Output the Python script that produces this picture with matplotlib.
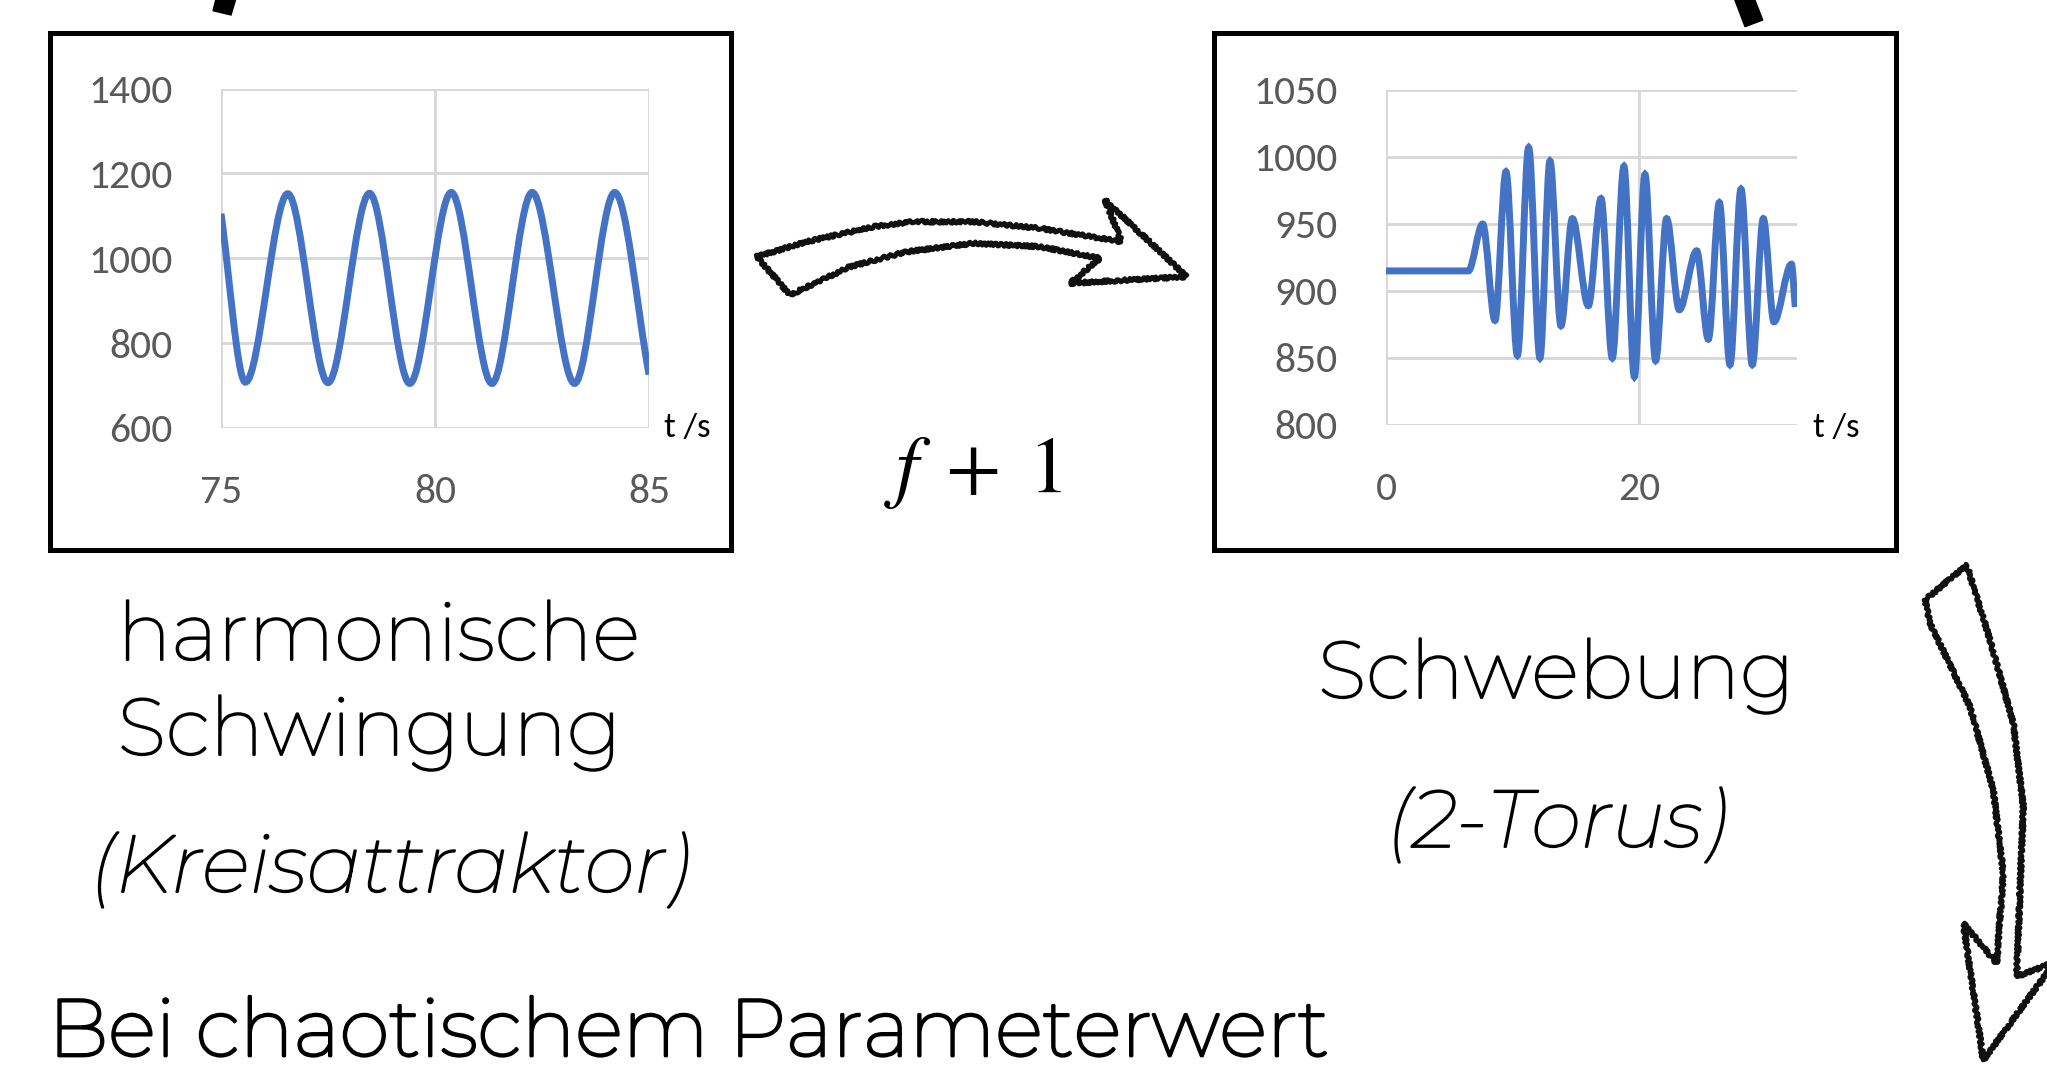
import matplotlib
matplotlib.use("Agg")
import numpy as np
import matplotlib.pyplot as plt
import matplotlib.patheffects as pe
from matplotlib import font_manager
from matplotlib.path import Path
from matplotlib.patches import PathPatch, Rectangle, Polygon

harm_t = [75.0, 75.57, 76.56, 77.50, 78.47, 79.41, 80.38, 81.33, 82.27, 83.26, 84.20, 85.0]
harm_v = [1105, 708, 1152, 707, 1153, 705, 1155, 705, 1155, 705, 1155, 726]

beat_t = [0.0, 6.5, 7.63, 8.6, 9.47, 10.37, 11.26, 12.15, 12.94, 13.81, 14.71, 15.97,
          16.97, 17.86, 18.78, 19.6, 20.44, 21.28, 22.15, 23.15, 24.52, 25.44,
          26.31, 27.15, 28.02, 28.91, 29.78, 30.62, 32.0, 32.3]
beat_v = [915, 915, 950, 878, 989, 852, 1007, 850, 997, 874, 954, 889,
          969, 850, 993, 836, 987, 848, 954, 886, 930, 864,
          966, 845, 976, 845, 954, 877, 920, 888]

harm_yticks = [600, 800, 1000, 1200, 1400]
harm_xticks = [75, 80, 85]
beat_yticks = [800, 850, 900, 950, 1000, 1050]
beat_xticks = [0, 20]

W, H = 2047, 1072
BLUE = "#4472C4"
GRID = "#d6d6d6"
TICK = "#595959"

names = {f.name for f in font_manager.fontManager.ttflist}


def pick(cands, default="DejaVu Sans"):
    for c in cands:
        if c in names:
            return c
    return default


label_font = pick(["Montserrat", "Lato", "Open Sans"])
tick_font = pick(["Carlito", "Liberation Sans"])
plt.rcParams["mathtext.fontset"] = "stix"


# Excel-artige geglaettete Linie: kubische Bezier-Segmente durch die Punkte
def smooth_path(x, y):
    x = np.asarray(x, float)
    y = np.asarray(y, float)
    d = np.diff(y) / np.diff(x)
    m = np.zeros_like(y)
    m[0], m[-1] = d[0], d[-1]
    for i in range(1, len(y) - 1):
        if d[i - 1] * d[i] > 0:
            m[i] = 2 / (1 / d[i - 1] + 1 / d[i])
    verts = [(x[0], y[0])]
    codes = [Path.MOVETO]
    for i in range(len(x) - 1):
        h = x[i + 1] - x[i]
        verts += [(x[i] + h / 3, y[i] + m[i] * h / 3),
                  (x[i + 1] - h / 3, y[i + 1] - m[i + 1] * h / 3),
                  (x[i + 1], y[i + 1])]
        codes += [Path.CURVE4] * 3
    return Path(verts, codes)


def style_axes(ax, xlim, ylim, xticks, yticks):
    ax.set_xlim(*xlim)
    ax.set_ylim(*ylim)
    ax.set_xticks(xticks)
    ax.set_yticks(yticks)
    for s in ax.spines.values():
        s.set_visible(False)
    ax.grid(True, color=GRID, lw=2.0)
    ax.set_axisbelow(True)
    ax.tick_params(length=0, labelsize=30, labelcolor=TICK)
    ax.tick_params(axis="y", pad=35)
    ax.tick_params(axis="x", pad=33)
    for lab in ax.get_xticklabels() + ax.get_yticklabels():
        lab.set_family(tick_font)


fig = plt.figure(figsize=(W / 100, H / 100), dpi=100)

# Hintergrund in Pixelkoordinaten
bg = fig.add_axes([0, 0, 1, 1])
bg.set_xlim(0, W)
bg.set_ylim(H, 0)
bg.axis("off")

bg.add_patch(Rectangle((49.6, 32.6), 681.4, 517, fill=False, ec="black", lw=3.6))
bg.add_patch(Rectangle((1214, 32.6), 681.6, 517, fill=False, ec="black", lw=3.6))

# Reste von Pfeilen am oberen Rand
bg.add_patch(Polygon([(217, -5), (237, -5), (231, 15), (213, 10.7)], closed=True, fc="black", ec="black", lw=1))
bg.add_patch(Polygon([(1733, -5), (1753, -5), (1762.7, 20), (1745, 26.7)], closed=True, fc="black", ec="black", lw=1))

# handgezeichneter Pfeil nach rechts
arrow_r = [(756.7, 256.7), (790, 295), (850, 266.7), (906.7, 251.7), (973.3, 243.3),
           (1040, 246.7), (1100, 258.3), (1070, 283.3), (1186.7, 276.7), (1105, 200),
           (1121.7, 241.7), (1040, 228.3), (973.3, 221.7), (913.3, 221.7),
           (873.3, 226.7), (806.7, 241.7)]
p = Polygon(arrow_r, closed=True, fc="white", ec="#111111", lw=3.5, joinstyle="round")
p.set_sketch_params(scale=1.5, length=6, randomness=3)
bg.add_patch(p)

# handgezeichneter Pfeil nach unten
arrow_d = [(1925, 600), (1966.7, 565), (1990, 640), (2013.3, 723.3), (2023.3, 806.7),
           (2020, 890), (2016.7, 976.7), (2055, 962), (1983.3, 1060), (1963.3, 923.3),
           (1996.7, 963.3), (2003.3, 873.3), (1993.3, 790), (1970, 706.7), (1930, 623.3)]
p = Polygon(arrow_d, closed=True, fc="white", ec="#111111", lw=3.5, joinstyle="round")
p.set_sketch_params(scale=1.5, length=6, randomness=3)
bg.add_patch(p)

# Diagramm 1: harmonische Schwingung
ax1 = fig.add_axes([221 / W, 1 - 428 / H, 428 / W, 339.5 / H])
style_axes(ax1, (75, 85), (600, 1400), harm_xticks, harm_yticks)
ax1.add_patch(PathPatch(smooth_path(harm_t, harm_v), fill=False, ec=BLUE, lw=5, capstyle="butt"))

# Diagramm 2: Schwebung
ax2 = fig.add_axes([1386 / W, 1 - 425 / H, 410.5 / W, 335 / H])
style_axes(ax2, (0, 32.4), (800, 1050), beat_xticks, beat_yticks)
ax2.add_patch(PathPatch(smooth_path(beat_t, beat_v), fill=False, ec=BLUE, lw=5, capstyle="butt"))

bg.text(687, 428, "t /s", ha="center", va="center", fontsize=25, family=tick_font, color="black")
bg.text(1836, 428, "t /s", ha="center", va="center", fontsize=25, family=tick_font, color="black")

bg.text(973, 492, r"$f\;+\;1$", ha="center", va="baseline", fontsize=58, color="black")

# die Schrift ist duenner als im Original, daher leicht nachziehen
thick = [pe.withStroke(linewidth=1.3, foreground="black")]
thicker = [pe.withStroke(linewidth=2.0, foreground="black")]
bg.text(117.5, 660, "harmonische", ha="left", va="baseline", fontsize=58,
        family=label_font, path_effects=thick)
bg.text(117.5, 755, "Schwingung", ha="left", va="baseline", fontsize=58,
        family=label_font, path_effects=thick)
bg.text(390, 892, "(Kreisattraktor)", ha="center", va="baseline", fontsize=58,
        family=label_font, style="italic", path_effects=thick)
bg.text(1556, 698, "Schwebung", ha="center", va="baseline", fontsize=58,
        family=label_font, path_effects=thick)
bg.text(1557, 847, "(2-Torus)", ha="center", va="baseline", fontsize=58,
        family=label_font, style="italic", path_effects=thick)
bg.text(48, 1056, "Bei chaotischem Parameterwert", ha="left", va="baseline", fontsize=58,
        family=label_font, path_effects=thicker)

fig.savefig("out.png", dpi=100)
